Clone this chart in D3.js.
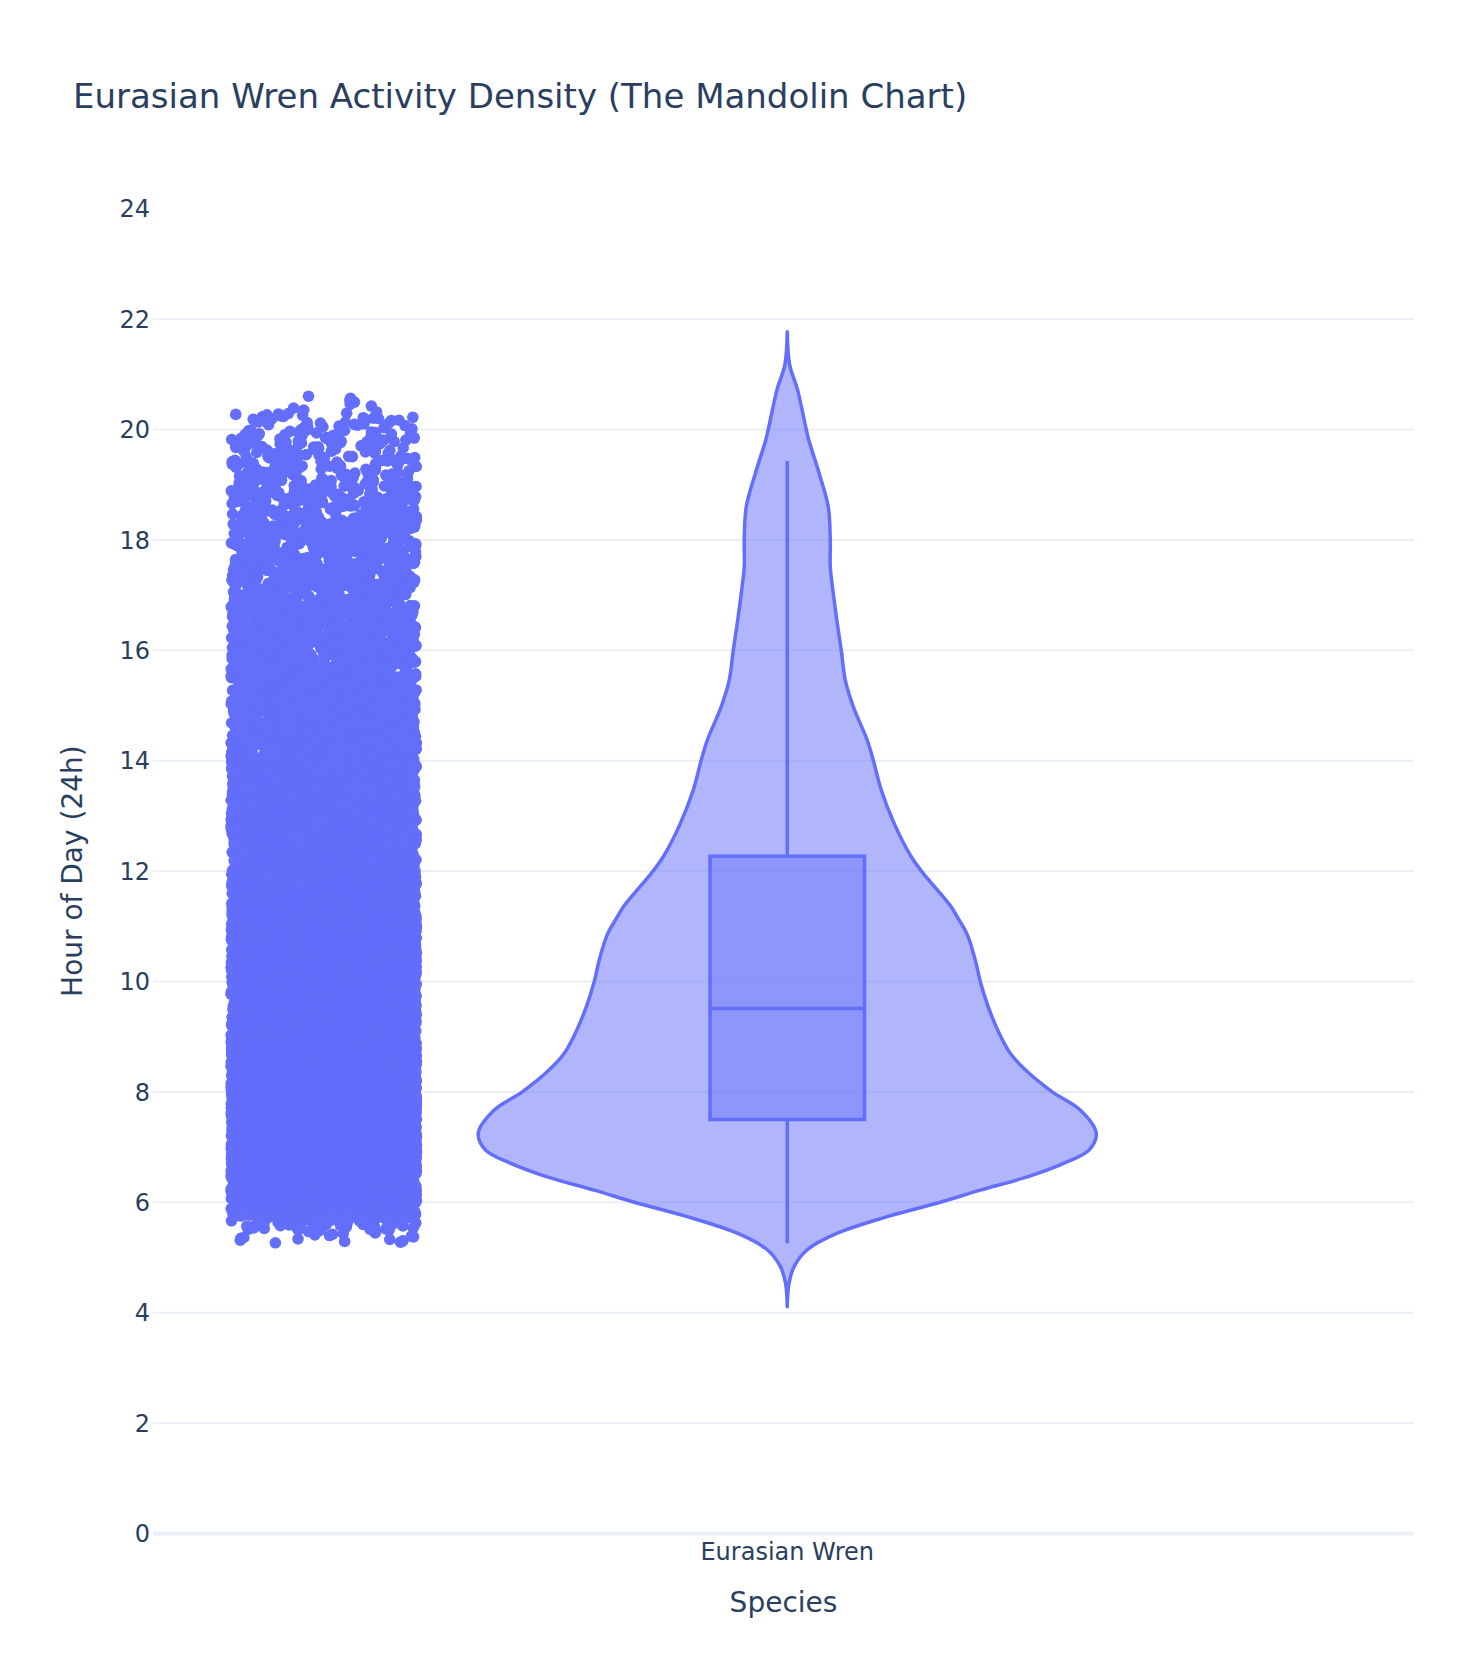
<!DOCTYPE html>
<html>
<head>
<meta charset="utf-8">
<script src="https://cdn.jsdelivr.net/npm/d3@7"></script>
<style>
  body { margin: 0; background: #fff; }
  svg { display: block; font-family: "DejaVu Sans", verdana, arial, sans-serif; }
</style>
</head>
<body>
<svg class="chart"></svg>
<script>
// --- data --- //
const species = ["Eurasian Wren"];

// violin outline: hour -> relative density (half width at the widest point = 309)
const violinHours = [4.11, 4.53, 4.83, 5.14, 5.44, 5.74, 6.0, 6.22, 6.46, 6.71, 6.95, 7.25, 7.67, 8.0, 8.4, 8.7, 9.06, 9.54, 10.0, 10.39, 10.85, 11.17, 11.35, 11.66, 11.96, 12.26, 12.86, 13.47, 14.01, 14.37, 14.98, 15.46, 16.0, 16.49, 17.09, 17.51, 18.0, 18.6, 19.2, 19.81, 20.0, 20.74, 21.17, 21.77];
const violinDensity = [0, 1.7, 6.7, 20, 50, 100, 153, 193, 240, 277, 302, 309, 293, 265, 238, 223, 212, 201, 193, 188, 180, 170, 164, 150, 136, 124, 107, 94, 86, 80, 66, 58, 54, 50, 45.6, 43, 43, 41, 32, 21.5, 19, 10, 2.4, 0];

// box stats
const boxStats = { lowerWhisker: 5.26, q1: 7.5, median: 9.51, q3: 12.27, upperWhisker: 19.43 };

// observations: number of points in each hour band
const pointEdges = [5.26, 5.5, 5.75, 6, 6.5, 7, 7.5, 8, 8.5, 9, 9.5, 10, 10.5, 11, 11.5, 12, 12.5, 13, 13.5, 14, 14.5, 15, 15.5, 16, 16.5, 17, 17.5, 18, 18.5, 19, 19.5, 20, 20.3, 20.62];
const pointCounts = [20, 60, 300, 1100, 1700, 1800, 1650, 1450, 1300, 1180, 1130, 1100, 1040, 940, 800, 680, 600, 550, 500, 430, 350, 310, 280, 260, 240, 225, 220, 205, 160, 110, 95, 40, 9];

const yTicks = d3.range(0, 25, 2);

// --- setup --- //
const width = 1481;
const height = 1670;
const margin = { top: 208.7, right: 67, bottom: 136.5, left: 153 };
const color = "#636efa";
const textColor = "#2a3f5f";
const gridColor = "#EBF0F8";

const svg = d3.select(".chart").attr("width", width).attr("height", height);

const y = d3.scaleLinear().domain([0, 24]).range([height - margin.bottom, margin.top]);
// category axis in plotly-like units (category 0 at value 0)
const x = d3.scaleLinear().domain([-0.506, 0.5]).range([margin.left, width - margin.right]);
const cat = d3.scaleOrdinal().domain(species).range([0]);

const violinHalf = 0.2465; // category units
const pointPos = -1.5;
const jitter = 0.3;
const boxFrac = 0.25;

const w = d3.scaleLinear().domain([0, d3.max(violinDensity)]).range([0, x(violinHalf) - x(0)]);

// gridlines
svg.append("g")
  .selectAll("line")
  .data(yTicks.filter((t) => t > 0 && t < 24))
  .enter()
  .append("line")
  .attr("x1", margin.left)
  .attr("x2", width - margin.right)
  .attr("y1", (d) => y(d))
  .attr("y2", (d) => y(d))
  .attr("stroke", gridColor)
  .attr("stroke-width", 2);

// zero line
svg.append("line")
  .attr("x1", margin.left)
  .attr("x2", width - margin.right)
  .attr("y1", y(0))
  .attr("y2", y(0))
  .attr("stroke", gridColor)
  .attr("stroke-width", 4);

// y tick labels
svg.append("g")
  .selectAll("text")
  .data(yTicks)
  .enter()
  .append("text")
  .attr("x", margin.left - 3)
  .attr("y", (d) => y(d))
  .attr("dy", "0.36em")
  .attr("text-anchor", "end")
  .attr("font-size", 24)
  .attr("fill", textColor)
  .text((d) => d);

species.forEach((name) => {
  const c = cat(name);
  const cx = x(c);

  // points: spread evenly in hour inside each band, jittered sideways
  const rnd = d3.randomLcg(7);
  const pts = [];
  pointCounts.forEach((n, b) => {
    const lo = pointEdges[b];
    const hi = pointEdges[b + 1];
    for (let i = 0; i < n; i++) {
      pts.push({ u: rnd(), hour: lo + ((i + 0.5) / n) * (hi - lo) });
    }
  });
  const pc = c + pointPos * violinHalf;
  const pj = jitter * violinHalf;
  svg.append("g")
    .attr("fill", color)
    .selectAll("circle")
    .data(pts)
    .enter()
    .append("circle")
    .attr("cx", (d) => x(pc + (2 * d.u - 1) * pj))
    .attr("cy", (d) => y(d.hour))
    .attr("r", 5.8);

  // violin
  const violin = violinHours.map((h, i) => ({ h: h, d: violinDensity[i] }));
  const area = d3.area()
    .y((d) => y(d.h))
    .x0((d) => cx - w(d.d))
    .x1((d) => cx + w(d.d))
    .curve(d3.curveCatmullRom.alpha(0.5));
  svg.append("path")
    .datum(violin)
    .attr("d", area)
    .attr("fill", "rgba(99,110,250,0.5)")
    .attr("stroke", color)
    .attr("stroke-width", 3.5)
    .attr("stroke-linejoin", "round");

  // inner box
  const bw = x(c + violinHalf * boxFrac) - cx;
  const box = svg.append("g").attr("stroke", color).attr("stroke-width", 3.5);
  box.append("line")
    .attr("x1", cx).attr("x2", cx)
    .attr("y1", y(boxStats.q3)).attr("y2", y(boxStats.upperWhisker));
  box.append("line")
    .attr("x1", cx).attr("x2", cx)
    .attr("y1", y(boxStats.q1)).attr("y2", y(boxStats.lowerWhisker));
  box.append("rect")
    .attr("x", cx - bw)
    .attr("width", 2 * bw)
    .attr("y", y(boxStats.q3))
    .attr("height", y(boxStats.q1) - y(boxStats.q3))
    .attr("fill", "rgba(99,110,250,0.45)");
  box.append("line")
    .attr("x1", cx - bw).attr("x2", cx + bw)
    .attr("y1", y(boxStats.median)).attr("y2", y(boxStats.median));

  // category tick label
  svg.append("text")
    .attr("x", cx)
    .attr("y", 1560)
    .attr("text-anchor", "middle")
    .attr("font-size", 24)
    .attr("fill", textColor)
    .text(name);
});

// axis titles
svg.append("text")
  .attr("x", (margin.left + width - margin.right) / 2)
  .attr("y", 1612)
  .attr("text-anchor", "middle")
  .attr("font-size", 28)
  .attr("fill", textColor)
  .text("Species");

svg.append("text")
  .attr("transform", `translate(82, ${(y(0) + y(24)) / 2}) rotate(-90)`)
  .attr("text-anchor", "middle")
  .attr("font-size", 28)
  .attr("fill", textColor)
  .text("Hour of Day (24h)");

// title
svg.append("text")
  .attr("x", 73)
  .attr("y", 107.7)
  .attr("font-size", 34)
  .attr("fill", textColor)
  .text("Eurasian Wren Activity Density (The Mandolin Chart)");
</script>
</body>
</html>
